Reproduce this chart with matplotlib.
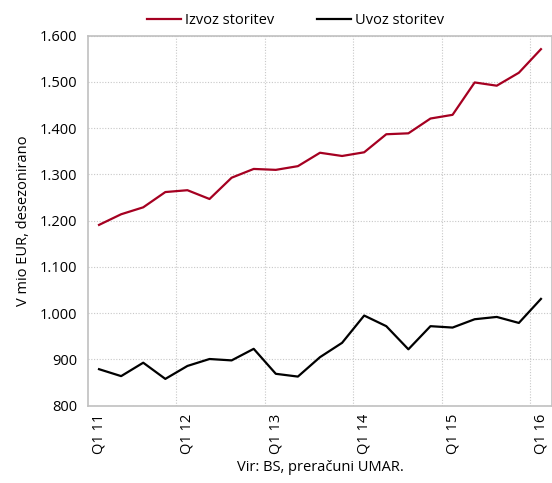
import matplotlib
matplotlib.use("Agg")
import matplotlib.pyplot as plt
import matplotlib.ticker as mticker
import numpy as np

# quarterly data, Q1 2011 - Q1 2016
quarters = ["Q1 11", "Q2 11", "Q3 11", "Q4 11",
            "Q1 12", "Q2 12", "Q3 12", "Q4 12",
            "Q1 13", "Q2 13", "Q3 13", "Q4 13",
            "Q1 14", "Q2 14", "Q3 14", "Q4 14",
            "Q1 15", "Q2 15", "Q3 15", "Q4 15",
            "Q1 16"]
izvoz = [1191, 1214, 1229, 1262, 1266, 1247, 1293, 1312, 1310, 1318, 1347,
         1340, 1348, 1387, 1389, 1421, 1429, 1499, 1492, 1520, 1571]
uvoz = [879, 864, 893, 858, 886, 901, 898, 923, 869, 863, 905,
        936, 995, 972, 922, 972, 969, 987, 992, 979, 1031]

plt.rcParams['font.family'] = ['Open Sans', 'DejaVu Sans']

fig = plt.figure(figsize=(5.52, 4.83), dpi=100)
ax = fig.add_axes([0.1594, 0.16, 0.8406, 0.766])

x = np.arange(len(quarters))
ax.plot(x, izvoz, color="#a50021", lw=1.6, label="Izvoz storitev")
ax.plot(x, uvoz, color="black", lw=1.6, label="Uvoz storitev")

ax.set_xlim(-0.5, len(quarters) - 0.5)
ax.set_ylim(800, 1600)
ax.yaxis.set_major_locator(mticker.MultipleLocator(100))
ax.yaxis.set_major_formatter(mticker.FuncFormatter(lambda v, p: f"{int(v):,}".replace(",", ".")))

# labels only on Q1, grid between Q4 and Q1
lab_pos = [i for i, q in enumerate(quarters) if q.startswith("Q1")]
ax.set_xticks(lab_pos)
ax.set_xticklabels([quarters[i] for i in lab_pos], rotation=90, fontsize=10.5)
ax.set_xticks([i - 0.5 for i in lab_pos[1:]], minor=True)
ax.tick_params(axis="both", which="both", length=0, labelsize=10.5)
ax.tick_params(axis="x", pad=6)
ax.tick_params(axis="y", pad=8)

ax.grid(True, axis="y", which="major", color="#c8c8c8", ls=(0, (1, 1.5)), lw=0.8)
ax.grid(True, axis="x", which="minor", color="#c8c8c8", ls=(0, (1, 1.5)), lw=0.8)
ax.grid(False, axis="x", which="major")
for s in ax.spines.values():
    s.set_color("#c0c0c0")
    s.set_linewidth(1.2)

ax.set_ylabel("V mio EUR, desezonirano", fontsize=10.5, labelpad=6)
ax.set_xlabel("Vir: BS, preračuni UMAR.", fontsize=10.5, labelpad=4)

ax.legend(loc="lower center", bbox_to_anchor=(0.448, 1.0), ncol=2, frameon=False,
          fontsize=10.5, handlelength=2.3, handletextpad=0.3, columnspacing=2.95,
          borderaxespad=0.15)

fig.savefig("out.png", dpi=100)
